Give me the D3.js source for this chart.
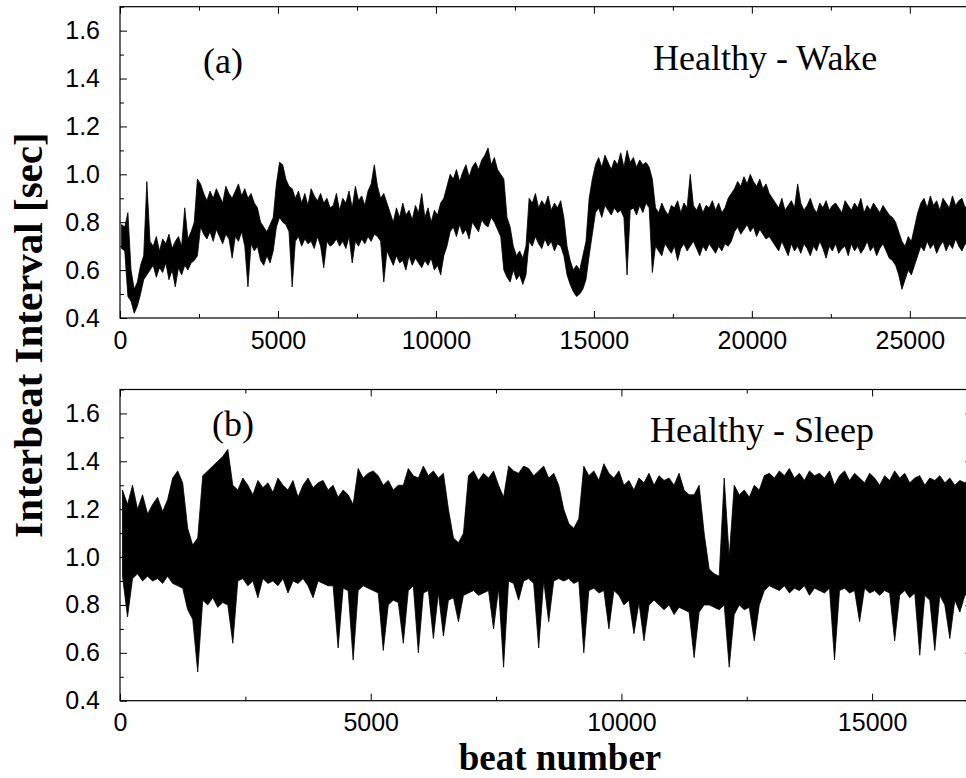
<!DOCTYPE html>
<html><head><meta charset="utf-8">
<script src="https://cdn.jsdelivr.net/npm/d3@7"></script>
<style>body{margin:0;background:#fff}svg{display:block}</style>
</head><body>
<svg id="c" width="966" height="778"></svg>
<script>
// ---- data: per-bin upper / lower extent of the RR series ----
const wakeBinSize = 100; // beats per bin
const wakeHi = [
0.79,0.78,0.84, 0.60,0.52,0.55, 0.62,0.66,0.97,
0.72,0.70,0.74,0.68,0.73,0.71,0.75,0.69,0.72,0.74,0.70,0.86,0.73,0.76,0.80,0.98,
0.96,0.92,0.89,0.93,0.90,0.94,0.91,0.88,0.95,0.92,0.90,0.93,0.96,0.91,0.94,0.90,0.92,0.88,0.86,
0.80,0.78,0.76,0.79,0.82,
0.96,1.05,1.04,0.98,0.95,0.94,
0.90,0.93,0.88,0.92,0.87,0.94,0.91,0.89,0.92,0.88,0.90,0.86,
0.87,0.92,0.85,0.90,0.88,0.93,0.86,0.95,0.89,0.91,0.87,0.93,0.96,1.04,0.95,0.90,0.92,0.88,
0.84,0.80,0.86,0.82,0.88,0.83,0.85,0.81,0.87,0.84,0.92,0.82,0.86,0.80,0.85,0.83,0.88,0.90,0.95,
1.00,0.98,1.02,0.97,1.01,1.04,0.99,1.03,1.05,1.02,1.06,1.08,1.11,1.04,1.07,1.02,1.00,0.98,
0.82,0.78,0.70,0.66,0.68,0.65,0.70,
0.90,0.88,0.92,0.86,0.89,0.87,0.91,0.85,0.88,0.86,0.89,0.82,
0.70,0.64,0.60,0.62,0.60,0.66,0.72,
0.90,0.98,
1.04,1.07,1.03,1.08,1.05,1.02,1.06,1.04,1.09,1.03,1.10,1.05,1.07,1.03,1.06,1.04,1.05,1.03,
0.98,
0.86,0.84,0.88,0.85,0.83,0.87,0.86,0.89,0.84,0.88,0.86,1.00,0.87,0.85,0.88,0.84,0.87,0.86,0.89,0.85,0.88,0.84,0.86,0.90,0.92,
0.94,0.97,0.95,0.99,0.96,1.00,0.97,0.95,0.98,0.94,0.96,0.92,0.90,
0.88,0.86,0.90,0.85,0.87,0.89,0.86,0.96,0.88,0.85,0.87,0.90,0.86,0.84,0.88,0.86,0.89,0.85,0.87,0.88,
0.86,0.84,0.89,0.87,0.85,0.88,0.86,0.90,0.84,0.87,0.85,0.88,0.86,0.84,0.87,0.85,0.83,0.82,0.80,
0.76,0.72,0.70,0.74,0.72,0.78,0.84,
0.88,0.90,0.86,0.91,0.87,0.89,0.85,0.90,0.88,0.86,0.91,0.87,0.89,0.90,0.86,0.88,0.90];
const wakeLo = [
0.69,0.68,0.49, 0.47,0.42,0.45, 0.50,0.56,0.58,
0.60,0.62,0.57,0.61,0.59,0.63,0.56,0.60,0.53,0.61,0.58,0.62,0.60,0.63,0.64,0.66,
0.78,0.75,0.73,0.76,0.72,0.77,0.74,0.71,0.75,0.73,0.65,0.74,0.72,0.76,0.70,0.53,0.71,0.68,0.70,
0.64,0.62,0.66,0.63,0.68,
0.78,0.82,0.80,0.79,0.76,0.53,
0.72,0.74,0.70,0.73,0.71,0.72,0.69,0.74,0.70,0.61,0.72,0.70,
0.71,0.73,0.70,0.72,0.69,0.74,0.63,0.72,0.70,0.73,0.71,0.74,0.72,0.75,0.74,0.72,0.55,0.68,
0.65,0.62,0.66,0.63,0.64,0.60,0.66,0.62,0.65,0.63,0.61,0.64,0.62,0.65,0.60,0.62,0.58,0.66,0.70,
0.76,0.78,0.74,0.79,0.75,0.77,0.73,0.80,0.78,0.76,0.81,0.79,0.78,0.82,0.80,0.77,0.74,0.60,
0.57,0.55,0.60,0.56,0.58,0.54,0.58,
0.72,0.70,0.74,0.71,0.69,0.73,0.70,0.72,0.68,0.71,0.70,0.66,
0.58,0.54,0.51,0.49,0.50,0.52,0.56,
0.66,0.75,
0.84,0.86,0.82,0.87,0.85,0.83,0.86,0.84,0.85,0.82,0.58,0.85,0.86,0.83,0.87,0.84,0.88,0.86,
0.59,
0.70,0.68,0.66,0.71,0.69,0.67,0.70,0.64,0.69,0.71,0.68,0.70,0.72,0.69,0.66,0.70,0.68,0.71,0.69,0.67,0.70,0.68,0.71,0.70,0.72,
0.76,0.78,0.75,0.77,0.79,0.76,0.78,0.74,0.77,0.75,0.73,0.74,0.72,
0.70,0.68,0.72,0.69,0.66,0.71,0.68,0.70,0.67,0.71,0.69,0.66,0.70,0.68,0.72,0.69,0.65,0.70,0.68,0.71,
0.67,0.69,0.70,0.66,0.71,0.68,0.70,0.67,0.69,0.72,0.68,0.70,0.66,0.69,0.71,0.68,0.65,0.64,0.62,
0.58,0.52,0.56,0.60,0.58,0.62,0.66,
0.70,0.68,0.72,0.69,0.71,0.67,0.70,0.72,0.68,0.71,0.69,0.73,0.70,0.68,0.71,0.70,0.72];

const sleepBinSize = 100; // beats per bin
const sleepHi = [
1.28,1.22,1.30,1.20,1.26,1.18, 1.22,1.25,1.19,1.24, 1.33,1.36,1.31, 1.12,1.05,1.08,
1.34,1.36,1.38,1.40,1.42,1.45, 1.30,
1.28,1.33,1.30,1.26,1.32,1.29,1.31,1.27,1.33,1.30,1.28,1.32,1.25,1.30,1.33,1.29,1.31,1.32,1.28,
1.30, 1.25, 1.28,1.26, 1.22, 1.37,1.33,1.35,1.36,1.34, 1.30, 1.32,1.28,1.30, 1.30, 1.37,1.34, 1.33,
1.38,1.34,1.36,1.33,1.35, 1.20,1.08,1.06,1.10, 1.34,1.36,1.32,1.35,1.33,1.36,1.30, 1.25,
1.38,1.36,1.35,1.38,1.37,1.34,1.36,1.38,1.33,1.35,1.30, 1.20,1.14,1.12,1.16, 1.38,
1.34,1.36,1.32,1.39,1.35,1.33,1.36, 1.30,1.32,1.28,1.33,1.31,1.35,
1.30,1.34,1.32,1.33,1.30,1.35,1.28,1.26, 1.26, 1.30,1.10, 0.95,0.93,0.92, 1.33, 1.00,
1.30,1.26,1.28,1.25,1.30,1.28,
1.34,1.35,1.33,1.36,1.34,1.37,1.33,1.35,1.32,1.36,1.34,1.35,1.33,1.36, 1.30,
1.34,1.36,1.32,1.35,1.33,1.31,1.35,1.33,1.30,1.34,1.32,1.36,1.33,1.35,1.31,1.33,1.34,1.30,1.33,1.32,1.34,1.31,1.33,1.30,1.32,1.31,1.33];
const sleepLo = [
0.92,0.75,0.91,0.93,0.90,0.92, 0.90,0.91,0.89,0.92, 0.89,0.88,0.87, 0.78,0.74,0.52,
0.82,0.80,0.83,0.79,0.81,0.80, 0.64,
0.90,0.91,0.88,0.90,0.83,0.91,0.89,0.90,0.88,0.91,0.85,0.90,0.89,0.91,0.88,0.83,0.90,0.89,0.88,
0.88, 0.62, 0.87,0.86, 0.57, 0.86,0.88,0.87,0.86,0.85, 0.61, 0.80,0.82,0.81, 0.64, 0.86,0.88, 0.60,
0.85,0.86,0.66,0.85,0.67, 0.82,0.83,0.73,0.84, 0.85,0.86,0.84,0.85,0.86,0.70,0.87, 0.54,
0.90,0.89,0.82,0.90,0.91,0.89,0.62,0.90,0.73,0.90,0.91, 0.90,0.91,0.89,0.90, 0.60,
0.86,0.87,0.85,0.86,0.70,0.86,0.84, 0.80,0.82,0.68,0.81,0.65,0.80,
0.82,0.80,0.78,0.80,0.76,0.79,0.78,0.77, 0.58, 0.77,0.80, 0.80,0.79,0.78, 0.80, 0.54,
0.76,0.80,0.78,0.79,0.65,0.80,
0.86,0.88,0.87,0.86,0.88,0.85,0.87,0.86,0.88,0.84,0.87,0.86,0.85,0.87, 0.57,
0.86,0.87,0.85,0.86,0.73,0.87,0.85,0.86,0.84,0.86,0.85,0.65,0.84,0.86,0.83,0.85,0.59,0.84,0.82,0.61,0.84,0.80,0.66,0.82,0.77,0.84,0.85];

const yTickValues = [0.4,0.6,0.8,1.0,1.2,1.4,1.6];
const wakeXTicks = [0,5000,10000,15000,20000,25000];
const sleepXTicks = [0,5000,10000,15000];
const panelLabels = ["(a)","(b)"];
const panelTitles = ["Healthy - Wake","Healthy - Sleep"];
const yTitle = "Interbeat Interval [sec]";
const xTitle = "beat number";

// ---- drawing ----
const svg = d3.select("#c");
const SANS = "'Liberation Sans', Arial, Helvetica, sans-serif";
const SERIF = "'Liberation Serif', 'Times New Roman', Times, serif";

const panels = [
  {hi: wakeHi, lo: wakeLo, bin: wakeBinSize, xmax: 27000, xticks: wakeXTicks,
   top: 6.7, bottom: 318, left: 120, right: 973,
   label: panelLabels[0], title: panelTitles[0], labelPos: [203, 73], titlePos: [653, 70]},
  {hi: sleepHi, lo: sleepLo, bin: sleepBinSize, xmax: 17000, xticks: sleepXTicks,
   top: 389.5, bottom: 700.7, left: 120, right: 972.4,
   label: panelLabels[1], title: panelTitles[1], labelPos: [212, 436], titlePos: [650, 442]}
];

panels.forEach((p, pi) => {
  const x = d3.scaleLinear().domain([0, p.xmax]).range([p.left, p.right]);
  const y = d3.scaleLinear().domain([0.4, 1.7]).range([p.bottom, p.top]);
  const g = svg.append("g");

  const clipId = "clip" + pi;
  svg.append("clipPath").attr("id", clipId).append("rect")
    .attr("x", p.left).attr("y", p.top).attr("width", p.right - p.left).attr("height", p.bottom - p.top);

  // min-max envelope of the dense beat series (bin centres), as one filled shape
  const bins = p.hi.map((h, i) => ({b: (i + 0.5) * p.bin, h, l: p.lo[i]}));
  const area = d3.area().x(d => x(d.b)).y0(d => y(d.l)).y1(d => y(d.h));
  g.append("path").attr("clip-path", `url(#${clipId})`)
    .attr("d", area(bins))
    .attr("fill", "#000").attr("stroke", "#000").attr("stroke-width", 0.8)
    .attr("stroke-linejoin", "miter");

  // minor / major ticks, inward
  const minorX = d3.range(0, p.xmax + 1, 2500).filter(v => v % 5000 !== 0);
  const minorY = [0.5,0.7,0.9,1.1,1.3,1.5,1.7];
  const styleAxis = sel => { sel.select(".domain").remove(); sel.selectAll("line").attr("stroke", "#000").attr("stroke-width", 1); };

  g.append("g").attr("transform", `translate(0,${p.bottom})`)
    .call(d3.axisBottom(x).tickValues(minorX).tickSize(-4).tickFormat("")).call(styleAxis);
  g.append("g").attr("transform", `translate(0,${p.bottom})`)
    .call(d3.axisBottom(x).tickValues(p.xticks).tickSize(-7).tickPadding(13).tickFormat(d3.format("d")))
    .call(styleAxis)
    .call(s => s.selectAll("text").attr("font-family", SANS).attr("font-size", 25).attr("fill", "#000"));
  g.append("g").attr("transform", `translate(0,${p.top})`)
    .call(d3.axisTop(x).tickValues(minorX).tickSize(-4).tickFormat("")).call(styleAxis);
  g.append("g").attr("transform", `translate(0,${p.top})`)
    .call(d3.axisTop(x).tickValues(p.xticks).tickSize(-7).tickFormat("")).call(styleAxis);

  g.append("g").attr("transform", `translate(${p.left},0)`)
    .call(d3.axisLeft(y).tickValues(minorY).tickSize(-4).tickFormat("")).call(styleAxis);
  g.append("g").attr("transform", `translate(${p.left},0)`)
    .call(d3.axisLeft(y).tickValues(yTickValues).tickSize(-7).tickPadding(20).tickFormat(d3.format(".1f")))
    .call(styleAxis)
    .call(s => s.selectAll("text").attr("font-family", SANS).attr("font-size", 25).attr("fill", "#000"));
  g.append("g").attr("transform", `translate(${p.right},0)`)
    .call(d3.axisRight(y).tickValues(minorY).tickSize(-4).tickFormat("")).call(styleAxis);
  g.append("g").attr("transform", `translate(${p.right},0)`)
    .call(d3.axisRight(y).tickValues(yTickValues).tickSize(-7).tickFormat("")).call(styleAxis);

  // frame
  g.append("rect").attr("x", p.left).attr("y", p.top)
    .attr("width", p.right - p.left).attr("height", p.bottom - p.top)
    .attr("fill", "none").attr("stroke", "#000").attr("stroke-width", 1.2);

  g.append("text").attr("x", p.labelPos[0]).attr("y", p.labelPos[1])
    .attr("font-family", SERIF).attr("font-size", 36).text(p.label);
  g.append("text").attr("x", p.titlePos[0]).attr("y", p.titlePos[1])
    .attr("font-family", SERIF).attr("font-size", 36).text(p.title);
});

svg.append("text").attr("transform", "translate(42,335) rotate(-90)")
  .attr("text-anchor", "middle").attr("font-family", SERIF).attr("font-weight", "bold")
  .attr("font-size", 41).text(yTitle);
svg.append("text").attr("x", 560).attr("y", 770)
  .attr("text-anchor", "middle").attr("font-family", SERIF).attr("font-weight", "bold")
  .attr("font-size", 37).text(xTitle);
</script>
</body></html>
